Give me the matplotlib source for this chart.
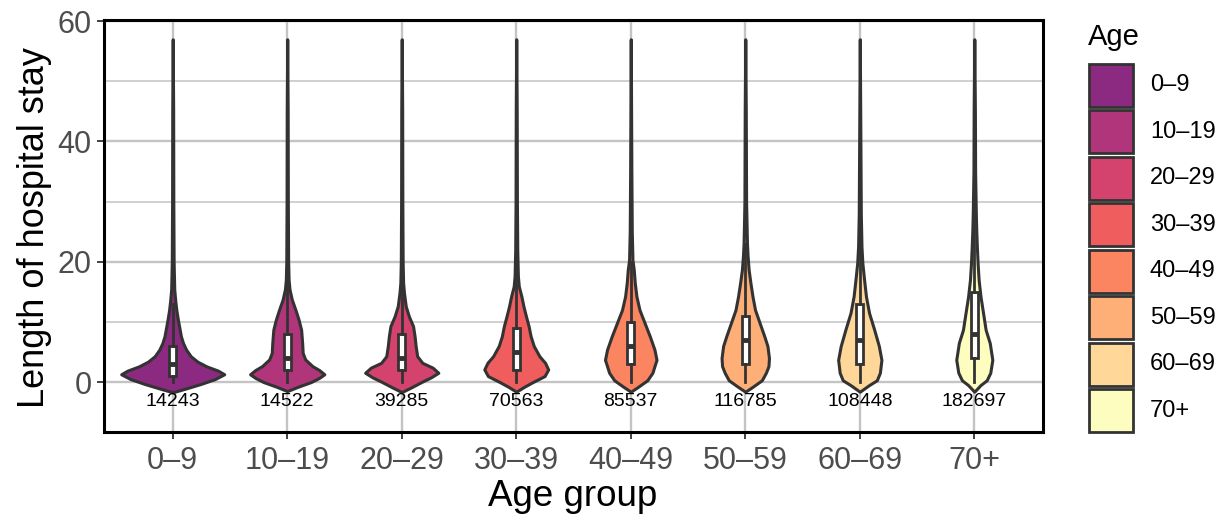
import numpy as np
import matplotlib.pyplot as plt
from matplotlib.patches import Rectangle

plt.rcParams['font.family'] = ['Liberation Sans', 'DejaVu Sans']

groups = ['0–9', '10–19', '20–29', '30–39', '40–49', '50–59', '60–69', '70+']
counts = [14243, 14522, 39285, 70563, 85537, 116785, 108448, 182697]

# violin outlines: stay values and relative density (1 = widest)
stay = [
    [-1.7, -1.0, -0.3, 0.5, 1.3, 1.9, 2.6, 3.4, 4.3, 5.4, 6.5, 7.6, 9.0, 10.4, 12.0, 13.5, 15.4, 20, 30, 45, 57],
    [-1.5, -0.8, 0, 0.7, 1.3, 2.0, 2.65, 3.76, 4.86, 6.5, 8.7, 10.4, 12.0, 13.7, 15.4, 17.0, 20, 30, 45, 57],
    [-1.66, -0.9, 0, 0.8, 1.55, 2.4, 3.2, 4.3, 6.0, 7.6, 9.3, 10.9, 12.6, 14.8, 16.5, 20, 30, 45, 57],
    [-1.6, -0.8, 0, 1.0, 2.1, 3.2, 4.3, 6.0, 7.6, 9.3, 10.9, 12.6, 14.25, 15.9, 17.6, 22, 30, 45, 57],
    [-1.6, -0.8, 0.3, 1.55, 2.65, 3.7, 5.4, 7.6, 9.8, 12.0, 14.25, 16.5, 18.7, 20.3, 25, 35, 57],
    [-1.6, -0.8, 0.3, 1.55, 2.65, 4.0, 6.0, 7.6, 9.8, 12.0, 14.25, 16.5, 18.7, 21, 23, 30, 45, 57],
    [-1.6, -0.5, 0.3, 1.55, 3.7, 6.0, 8.7, 11.5, 14.25, 17.0, 19.8, 22.5, 28, 40, 57],
    [-1.6, -0.5, 0.3, 1.55, 3.7, 6.5, 8.7, 11.5, 14.25, 17.0, 19.8, 22.5, 25.3, 28, 35, 45, 57],
]
dens = [
    [0, 0.28, 0.55, 0.82, 1.0, 0.88, 0.66, 0.48, 0.35, 0.26, 0.2, 0.16, 0.13, 0.1, 0.07, 0.05, 0.03, 0.018, 0.012, 0.009, 0],
    [0, 0.2, 0.46, 0.62, 0.72, 0.62, 0.49, 0.35, 0.30, 0.29, 0.27, 0.22, 0.16, 0.09, 0.045, 0.027, 0.018, 0.012, 0.009, 0],
    [0, 0.18, 0.38, 0.57, 0.71, 0.6, 0.4, 0.30, 0.27, 0.25, 0.22, 0.14, 0.078, 0.044, 0.027, 0.018, 0.012, 0.009, 0],
    [0, 0.15, 0.32, 0.55, 0.62, 0.56, 0.45, 0.34, 0.28, 0.24, 0.19, 0.14, 0.1, 0.05, 0.032, 0.02, 0.013, 0.009, 0],
    [0, 0.14, 0.32, 0.42, 0.46, 0.5, 0.46, 0.37, 0.27, 0.17, 0.11, 0.078, 0.058, 0.033, 0.02, 0.012, 0],
    [0, 0.14, 0.32, 0.40, 0.45, 0.46, 0.43, 0.37, 0.28, 0.19, 0.14, 0.10, 0.065, 0.045, 0.033, 0.016, 0.01, 0],
    [0, 0.18, 0.33, 0.39, 0.42, 0.37, 0.28, 0.18, 0.12, 0.084, 0.05, 0.033, 0.02, 0.012, 0],
    [0, 0.12, 0.24, 0.31, 0.35, 0.30, 0.22, 0.17, 0.12, 0.084, 0.064, 0.05, 0.038, 0.03, 0.016, 0.012, 0],
]

# box plot summaries
q1 = [1, 2, 2, 2, 3, 3, 3, 4]
med = [3, 4, 4, 5, 6, 7, 7, 8]
q3 = [6, 8, 8, 9, 10, 11, 13, 15]
whislo = [0, 0, 0, 0, 0, 0, 0, 0]
whishi = [13, 17, 17, 19, 20, 23, 28, 31]

cols = plt.cm.magma(np.linspace(0.4, 1, len(groups)))
dark = '#333333'

fig = plt.figure(figsize=(12.25, 5.19), dpi=100)
ax = fig.add_axes([104/1225, 1-432/519, (1043-104)/1225, (432-20)/519])

for i in range(len(groups)):
    y = np.array(stay[i])
    w = np.array(dens[i])*0.45
    ax.fill_betweenx(y, i+1-w, i+1+w, facecolor=cols[i], edgecolor=dark,
                     lw=2.2, joinstyle='round', zorder=3)

stats = [dict(med=med[i], q1=q1[i], q3=q3[i], whislo=whislo[i], whishi=whishi[i])
         for i in range(len(groups))]
ax.bxp(stats, positions=range(1, len(groups)+1), widths=0.06, showfliers=False,
       showcaps=False, patch_artist=True, manage_ticks=False, zorder=4,
       boxprops=dict(facecolor='white', edgecolor=dark, lw=2.0),
       medianprops=dict(color=dark, lw=3.5, solid_capstyle='butt'),
       whiskerprops=dict(color=dark, lw=2.0))

for i in range(len(groups)):
    ax.text(i+1, -3.3, str(counts[i]), ha='center', va='center', fontsize=14, zorder=5)

ax.set_xlim(0.4, 8.6)
ax.set_ylim(-8.3, 60.2)
ax.set_yticks([0, 20, 40, 60])
ax.set_yticks([10, 30, 50], minor=True)
ax.set_xticks(range(1, len(groups)+1))
ax.set_xticklabels(groups)
ax.set_axisbelow(True)
ax.grid(which='major', color='#C4C4C4', lw=1.7)
ax.grid(which='minor', axis='y', color='#C4C4C4', lw=1.1)
ax.tick_params(which='minor', length=0)
ax.tick_params(which='major', length=5, width=1.3, color=dark, labelsize=22,
               labelcolor='#4D4D4D', pad=4)
ax.tick_params(axis='x', pad=5)
for s in ax.spines.values():
    s.set_linewidth(2.2)
    s.set_color('black')

fig.text(35/1225, 1-227/519, 'Length of hospital stay', rotation=90,
         ha='center', va='center', fontsize=26)
fig.text(573/1225, 1-497/519, 'Age group', ha='center', va='center', fontsize=26.5)

# legend
lax = fig.add_axes([1085/1225, 1-434/519, 140/1225, (434-62)/519])
lax.axis('off')
lax.set_xlim(0, 140)
lax.set_ylim(len(groups), 0)
for i in range(len(groups)):
    lax.add_patch(Rectangle((4, i+0.04), 44, 0.92, facecolor=cols[i],
                            edgecolor=dark, lw=2.0, clip_on=False))
    lax.text(65, i+0.5, groups[i], va='center', ha='left', fontsize=17)
fig.text(1088/1225, 1-37/519, 'Age', ha='left', va='center', fontsize=21)

fig.savefig('out.png', dpi=100)
